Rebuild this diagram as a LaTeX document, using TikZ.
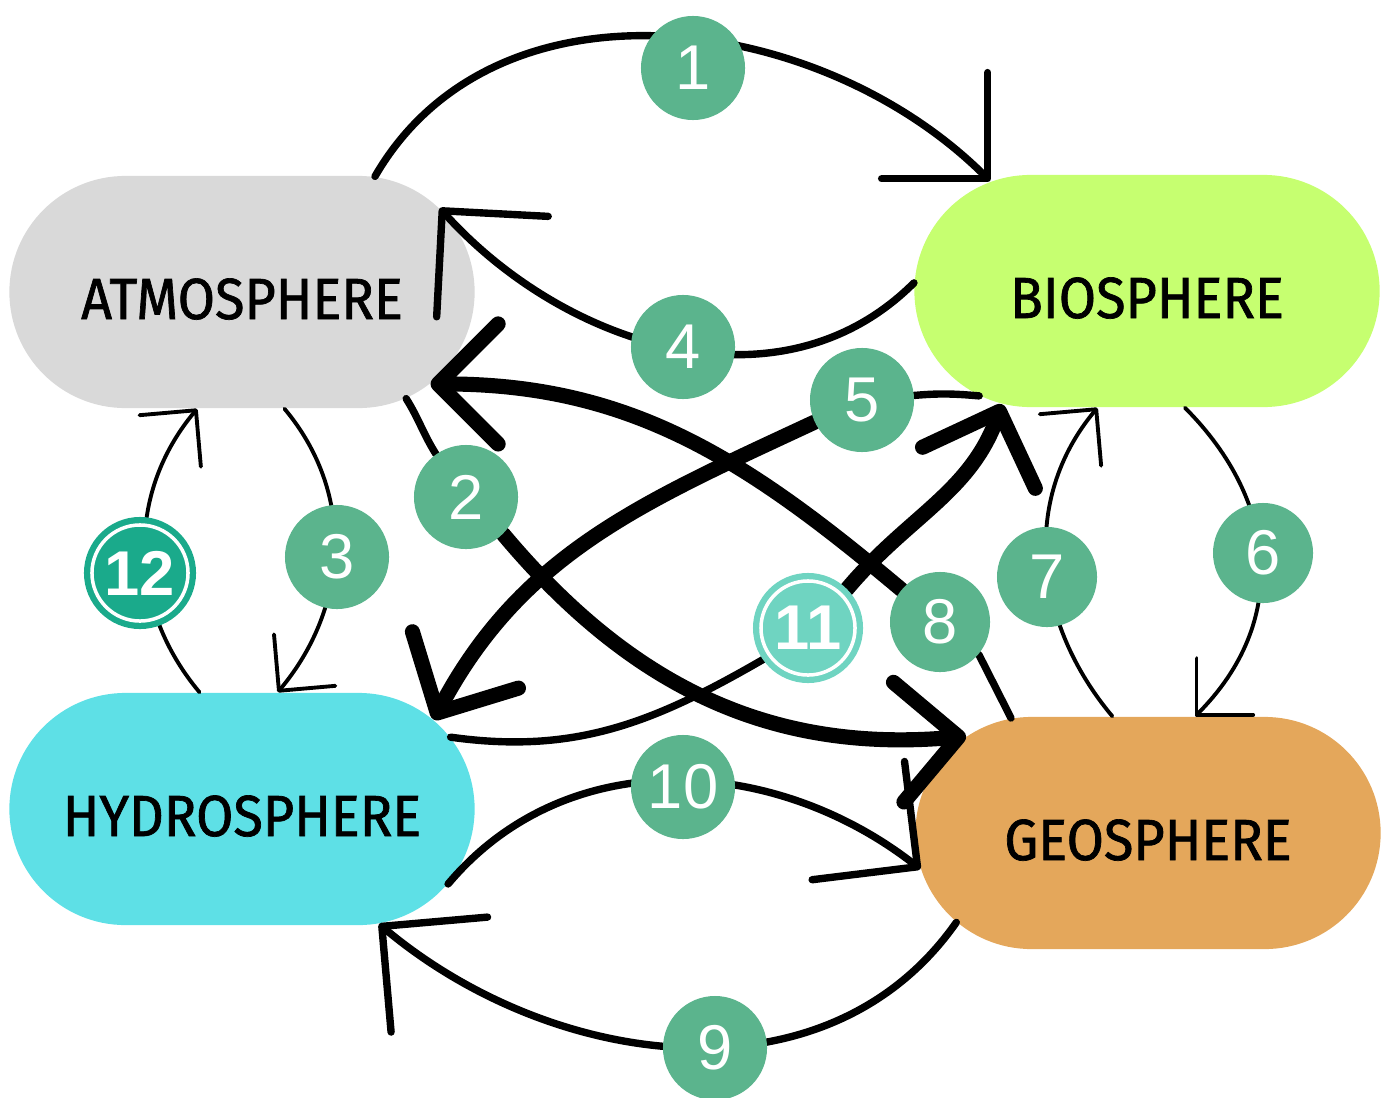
\documentclass[tikz,border=0pt]{standalone}
\usepackage{fontspec}
\setmainfont{Liberation Sans}
\newfontfamily\spherefont[FakeStretch=0.93,FakeBold=1.2]{Fira Sans}
\usetikzlibrary{arrows.meta,shapes.misc}

\definecolor{atmgray}{HTML}{D9D9D9}
\definecolor{biolime}{HTML}{C6FF70}
\definecolor{hydcyan}{HTML}{5EE0E6}
\definecolor{geoorange}{HTML}{E4A75B}
\definecolor{numgreen}{HTML}{5BB48D}
\definecolor{numteal}{HTML}{1AAA8B}
\definecolor{numaqua}{HTML}{6FD4C1}

\pgfdeclarelayer{front}
\pgfsetlayers{main,front}

\tikzset{
  sphere/.style={rounded rectangle, minimum width=4.65cm, minimum height=2.32cm, inner sep=0pt, text height=0.54cm, text depth=0pt, font=\spherefont\fontsize{16.5}{16.5}\selectfont},
  num/.style={circle, fill=numgreen, text=white, minimum size=1.04cm, inner sep=0pt, font=\fontsize{18}{18}\selectfont},
  ringnum/.style={circle, fill=#1, draw=white, line width=1pt, text=white, minimum size=0.96cm, inner sep=0pt, outer sep=0.08cm, preaction={draw=#1, line width=0.16cm}, font=\bfseries\fontsize{18}{18}\selectfont},
  plain/.style={line width=2.1pt, line cap=round},
  hair/.style={line width=1.1pt, line cap=round},
  big/.style={plain, -{Straight Barb[length=7.5mm,width=15mm,round]}},
  small/.style={hair, -{Straight Barb[length=4mm,width=8mm,round]}},
  heavy/.style={line width=4.3pt, line cap=round, -{Straight Barb[length=6mm,width=12mm,round]}}
}

\begin{document}
\begin{tikzpicture}[x=0.01cm,y=0.01cm]
\useasboundingbox (0,0) rectangle (1392,-1097);

\node[sphere, fill=atmgray] (atm) at (242,-292) {ATMOSPHERE};
\node[sphere, fill=biolime] (bio) at (1147,-291) {BIOSPHERE};
\node[sphere, fill=hydcyan] (hyd) at (242,-809) {HYDROSPHERE};
\node[sphere, fill=geoorange] (geo) at (1148,-833) {GEOSPHERE};

\begin{pgfonlayer}{front}
\node[num] (n1) at (693,-68) {1};
\node[num] (n2) at (466,-497) {2};
\node[num] (n3) at (337,-557) {3};
\node[num] (n4) at (683,-347) {4};
\node[num] (n5) at (862,-400) {5};
\node[num, minimum size=1cm] (n6) at (1263,-553) {6};
\node[num, minimum size=1cm] (n7) at (1047,-577) {7};
\node[num, minimum size=1cm] (n8) at (940,-622) {8};
\node[num] (n9) at (715,-1048) {9};
\node[num] (n10) at (683,-787) {10};
\node[ringnum=numaqua, minimum size=0.94cm] (n11) at (808,-628) {11};
\node[ringnum=numteal] (n12) at (140,-573) {12};
\end{pgfonlayer}

% outer loops
\draw[big] (atm.41) to[out=60,in=135] (bio.145);
\draw[big] (bio.178) to[out=225,in=-48] (atm.23);
\draw[big] (geo.-155) to[out=-125,in=-40] (hyd.-40);
\draw[big] (hyd.-20) to[out=50,in=142] (geo.189);

% side loops
\draw[small] (atm.-70) to[out=-50,in=50] (hyd.73);
\draw[small] (hyd.110) to[out=130,in=230] (atm.-111);
\draw[small, looseness=1.1] (bio.-72) to[out=-45,in=45] (geo.68);
\draw[small] (geo.107) to[out=130,in=230] (bio.-113);

% diagonals
\draw[plain] (atm.-33) to[out=-58,in=122] (n2.125);
\draw[heavy] (n2.-45) to[out=-50,in=185] (geo.152);
\draw[plain] (geo.140) -- (n8.-40);
\draw[heavy] (n8.140) to[out=140,in=0] (atm.-26);
\draw[plain] (bio.212) to[out=175,in=5] (n5.5);
\draw[heavy] (n5.205) to[out=205,in=62] (hyd.25);
\draw[plain] (hyd.19) to[out=-8,in=210] (n11.215);
\draw[heavy] (n11.45) to[out=50,in=250] (bio.218);
\end{tikzpicture}
\end{document}
